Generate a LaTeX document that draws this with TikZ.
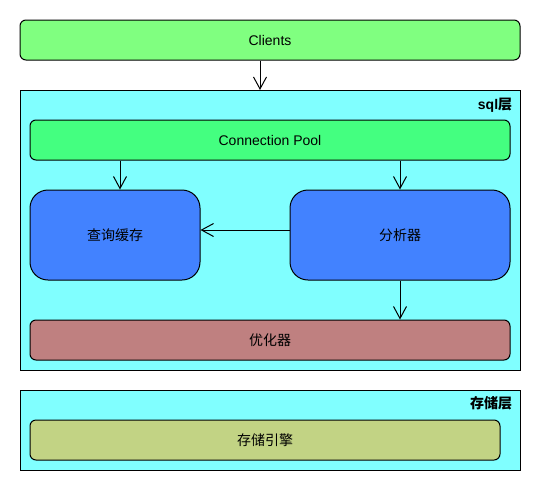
\documentclass[tikz,border=0pt]{standalone}
\usepackage{fontspec}
\setmainfont{Liberation Sans}
\newfontfamily\cjk{Noto Sans CJK SC}
\usetikzlibrary{arrows.meta}
\definecolor{client}{HTML}{80FF80}
\definecolor{pool}{HTML}{44FF80}
\definecolor{layer}{HTML}{80FFFF}
\definecolor{blue}{HTML}{4282FF}
\definecolor{opt}{HTML}{BF8080}
\definecolor{engine}{HTML}{C2D384}
\begin{document}
\begin{tikzpicture}[x=1pt,y=-1pt,line width=1pt,font=\fontsize{14pt}{16pt}\selectfont,
  box/.style={draw,rounded corners=6pt,inner sep=0pt,minimum height=40pt},
  bigbox/.style={draw,rounded corners=18pt,inner sep=0pt,minimum height=90pt,fill=blue},
  arr/.style={-{Straight Barb[length=12pt,width=13pt,line width=1pt]}}]
\useasboundingbox (0,0) rectangle (540,490);
\draw[fill=layer](20,90) rectangle (520,370);
\draw[fill=layer](20,390) rectangle (520,470);
\node[anchor=north east,font=\fontsize{14pt}{16pt}\selectfont\bfseries] (sqllbl) at (516,94) {sql{\cjk 层}};
\node[anchor=north east,font=\fontsize{14pt}{16pt}\selectfont\bfseries\cjk] (storelbl) at (516,393) {存储层};
\node[box,fill=client,minimum width=500pt] (clients) at (270,40) {Clients};
\node[box,fill=pool,minimum width=480pt] (pool) at (270,140) {Connection Pool};
\node[bigbox,minimum width=170pt] (cache) at (115,235) {\cjk 查询缓存};
\node[bigbox,minimum width=220pt] (parser) at (400,235) {\cjk 分析器};
\node[box,fill=opt,minimum width=480pt] (optim) at (270,340) {\cjk 优化器};
\node[box,fill=engine,minimum width=470pt] (engine) at (265,440) {\cjk 存储引擎};
\coordinate (sqltop) at (260,90);
\draw[arr](clients.south -| sqltop)--(sqltop);
\draw[arr](pool.south -| 120,0)--(cache.north -| 120,0);
\draw[arr](pool.south -| parser.north)--(parser.north);
\draw[arr]([yshift=5pt]parser.west)--([yshift=5pt]cache.east);
\draw[arr](parser.south)--(optim.north -| parser.south);
\end{tikzpicture}
\end{document}
